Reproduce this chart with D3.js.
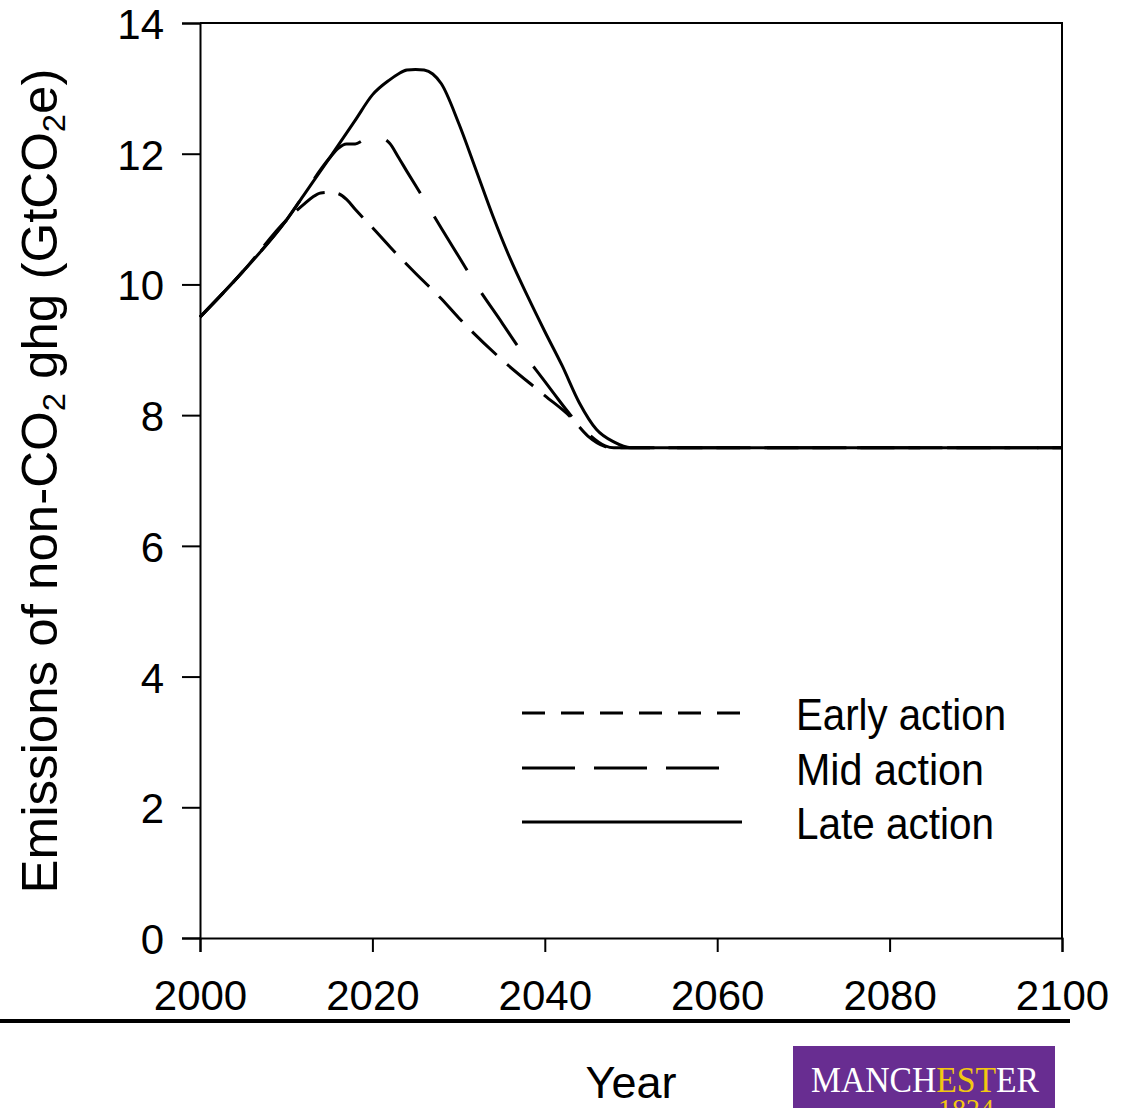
<!DOCTYPE html>
<html><head><meta charset="utf-8">
<script src="https://cdn.jsdelivr.net/npm/d3@7"></script>
<style>body{margin:0;background:#fff} svg{display:block}</style>
</head><body>
<script>
// ---- data ----
const earlyYears  = [2000,2005,2010,2012,2013,2014,2015,2016,2017,2018,2020,2022,2025,2028,2030,2035,2040,2043,2045,2047,2048,2100];
const earlyValues = [9.5,10.2,10.98,11.22,11.33,11.4,11.41,11.39,11.3,11.15,10.87,10.58,10.17,9.78,9.49,8.85,8.3,7.97,7.68,7.52,7.5,7.5];
const midYears    = [2000,2005,2010,2015,2016,2017,2018,2019,2020,2021,2022,2023,2024,2026,2028,2030,2032,2035,2037,2039,2041,2043,2045,2047,2048,2100];
const midValues   = [9.5,10.2,10.98,11.93,12.08,12.15,12.15,12.21,12.25,12.24,12.16,11.95,11.73,11.3,10.86,10.43,10.0,9.42,9.03,8.69,8.34,8.0,7.72,7.53,7.5,7.5];
const lateYears   = [2000,2005,2010,2012,2015,2018,2020,2022,2023,2024,2025,2026,2027,2028,2030,2032,2034,2036,2038,2040,2042,2044,2046,2048,2050,2100];
const lateValues  = [9.5,10.2,10.98,11.36,11.93,12.51,12.9,13.13,13.22,13.28,13.29,13.28,13.22,13.07,12.47,11.76,11.04,10.39,9.82,9.28,8.76,8.19,7.78,7.59,7.5,7.5];
const seriesNames = ["Early action","Mid action","Late action"];
const xTicks = [2000,2020,2040,2060,2080,2100];
const yTicks = [0,2,4,6,8,10,12,14];

// ---- layout ----
const W = 1124, H = 1108;
const font = "'Liberation Sans', Arial, sans-serif";
const svg = d3.select("body").append("svg").attr("width", W).attr("height", H)
  .style("font-family", font);

const x = d3.scaleLinear().domain([2000, 2100]).range([200, 1062]);
const y = d3.scaleLinear().domain([0, 14]).range([938, 23]);

// frame (top & right)
svg.append("path")
  .attr("d", `M${x(2000)},${y(14)}H${x(2100)}V${y(0)}`)
  .attr("fill", "none").attr("stroke", "#000").attr("stroke-width", 2);

// axes
const xAxis = svg.append("g").attr("transform", `translate(0,${y(0)})`)
  .call(d3.axisBottom(x).tickValues(xTicks).tickFormat(d3.format("d")).tickSizeOuter(0).tickSize(14));
const yAxis = svg.append("g").attr("transform", `translate(${x(2000)},0)`)
  .call(d3.axisLeft(y).tickValues(yTicks).tickFormat(d3.format("d")).tickSizeOuter(0).tickSize(18).tickPadding(18));
[xAxis, yAxis].forEach(g => {
  g.select(".domain").attr("stroke", "#000").attr("stroke-width", 2);
  g.selectAll(".tick line").attr("stroke", "#000").attr("stroke-width", 2);
  g.selectAll("text").attr("font-family", font).attr("font-size", 42).attr("fill", "#000");
});
xAxis.selectAll("text").attr("y", 72).attr("dy", 0);
yAxis.selectAll("text").attr("dy", "0.37em");

// series
const mk = (ys, vs) => ys.map((yr, i) => ({yr, v: vs[i]}));
const series = [
  {name: seriesNames[0], data: mk(earlyYears, earlyValues), dash: "34,14", legendDash: "23,16"},
  {name: seriesNames[1], data: mk(midYears, midValues), dash: "63,27", legendDash: "53,19"},
  {name: seriesNames[2], data: mk(lateYears, lateValues), dash: null, legendDash: null}
];
const line = d3.line().x(d => x(d.yr)).y(d => y(d.v)).curve(d3.curveMonotoneX);
svg.append("g").selectAll("path").data(series.slice().reverse()).join("path")
  .attr("d", d => line(d.data))
  .attr("fill", "none").attr("stroke", "#000").attr("stroke-width", 3)
  .attr("stroke-linejoin", "round")
  .attr("stroke-dasharray", d => d.dash);

// legend
const legY = [713, 768, 822];
const legEnds = [740, 720, 742];
const legTL = [210, 188, 198];
const leg = svg.append("g");
series.forEach((s, i) => {
  leg.append("line").attr("x1", 522).attr("x2", legEnds[i]).attr("y1", legY[i]).attr("y2", legY[i])
    .attr("stroke", "#000").attr("stroke-width", 3).attr("stroke-dasharray", s.legendDash);
  leg.append("text").attr("x", 796).attr("y", legY[i] + 17).attr("font-size", 45)
    .attr("textLength", legTL[i]).attr("lengthAdjust", "spacingAndGlyphs")
    .text(s.name);
});

// y title (rotated, condensed)
const yt = svg.append("text").attr("font-size", 50).attr("text-anchor", "middle");
yt.append("tspan").text("Emissions of non-CO");
yt.append("tspan").text("2").attr("font-size", 32).attr("dy", 8);
yt.append("tspan").text(" ghg (GtCO").attr("dy", -8);
yt.append("tspan").text("2").attr("font-size", 32).attr("dy", 8);
yt.append("tspan").text("e)").attr("dy", -8);
const len = yt.node().getComputedTextLength();
yt.attr("transform", `translate(57,481) rotate(-90) scale(${825 / len},1)`);

// separator line
svg.append("line").attr("x1", 0).attr("x2", 1070).attr("y1", 1021).attr("y2", 1021)
  .attr("stroke", "#000").attr("stroke-width", 4);

// x title
svg.append("text").attr("x", 631).attr("y", 1098).attr("text-anchor", "middle")
  .attr("font-size", 45).text("Year");

// logo
const logo = svg.append("g");
logo.append("rect").attr("x", 793).attr("y", 1046).attr("width", 262).attr("height", 70).attr("fill", "#682d91");
const lt = logo.append("text").attr("x", 811).attr("y", 1092).attr("font-family", "'Liberation Serif', 'Times New Roman', serif")
  .attr("font-size", 36).attr("textLength", 228).attr("lengthAdjust", "spacingAndGlyphs");
lt.append("tspan").attr("fill", "#fff").text("MANCH");
lt.append("tspan").attr("fill", "#f2c811").text("EST");
lt.append("tspan").attr("fill", "#fff").text("ER");
logo.append("text").attr("x", 966).attr("y", 1118).attr("text-anchor", "middle")
  .attr("font-family", "'Liberation Serif', 'Times New Roman', serif").attr("font-size", 28)
  .attr("fill", "#f2c811").text("1824");
</script>
</body></html>
